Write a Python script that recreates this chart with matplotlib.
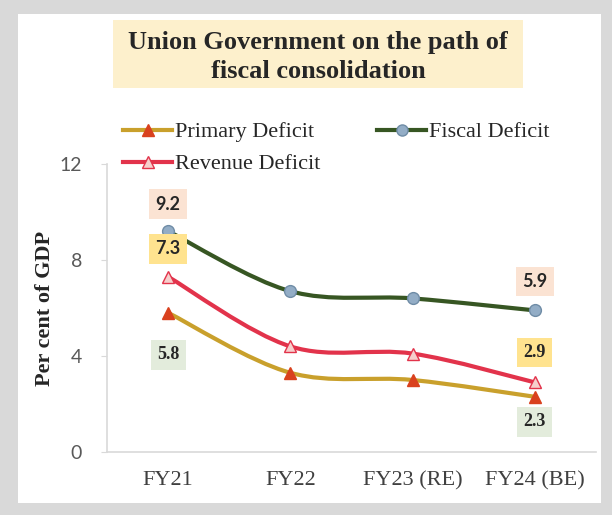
import numpy as np
import matplotlib
matplotlib.use("Agg")
import matplotlib.pyplot as plt
from matplotlib.path import Path
from matplotlib.patches import PathPatch, Rectangle
from matplotlib.lines import Line2D

# data (per cent of GDP)
years = ["FY21", "FY22", "FY23 (RE)", "FY24 (BE)"]
primary = [5.8, 3.3, 3.0, 2.3]
fiscal = [9.2, 6.7, 6.4, 5.9]
revenue = [7.3, 4.4, 4.1, 2.9]

SERIF = ["Liberation Serif", "DejaVu Serif"]
W, H = 612, 515

fig = plt.figure(figsize=(6.12, 5.15), dpi=100, facecolor="#d9d9d9")
fig.add_artist(Rectangle((18 / W, 12 / H), 583 / W, 489 / H,
                         transform=fig.transFigure, facecolor="white",
                         edgecolor="none", zorder=0))

ax = fig.add_axes([107 / W, 63 / H, 489 / W, 288 / H])
ax.set_facecolor("none")
ax.set_xlim(-0.5, 3.5)
ax.set_ylim(0, 12)


def smooth_path(xs, ys):
    # catmull-rom style bezier, like excel's smoothed line
    pts = np.column_stack([xs, ys]).astype(float)
    n = len(pts)
    verts = [pts[0]]
    codes = [Path.MOVETO]
    for i in range(n - 1):
        p0 = pts[max(i - 1, 0)]
        p1 = pts[i]
        p2 = pts[i + 1]
        p3 = pts[min(i + 2, n - 1)]
        verts += [p1 + (p2 - p0) / 6, p2 - (p3 - p1) / 6, p2]
        codes += [Path.CURVE4] * 3
    return Path(verts, codes)


x = np.arange(len(years))
series = [
    (primary, "#c9a02c", "^", "#d9411e", "#d9411e", "Primary Deficit", (123, 130)),
    (revenue, "#e2334b", "^", "#f6cfcc", "#e2334b", "Revenue Deficit", (123, 162)),
    (fiscal, "#375623", "o", "#93adc6", "#6f8ca6", "Fiscal Deficit", (377, 130)),
]
for vals, lc, mk, mfc, mec, name, (lx, ly) in series:
    ax.add_patch(PathPatch(smooth_path(x, vals), facecolor="none",
                           edgecolor=lc, lw=3.0, zorder=2))
    ax.plot(x, vals, ls="none", marker=mk, ms=8.5, mfc=mfc, mec=mec,
            mew=1.0, zorder=3)
    # legend entry
    fy = 1 - ly / H
    fig.add_artist(Line2D([lx / W, (lx + 49) / W], [fy, fy], color=lc,
                          lw=3.0, transform=fig.transFigure))
    fig.add_artist(Line2D([(lx + 24.5) / W], [fy], ls="none", marker=mk,
                          ms=8, mfc=mfc, mec=mec, mew=1.0,
                          transform=fig.transFigure))
    fig.text((lx + 52) / W, fy, name, ha="left", va="center_baseline",
             family=SERIF, fontsize=16, color="#262626")

# data labels
labels = [
    (0, fiscal[0], "9.2", 27, "#fbe3d3", ["Lato", "DejaVu Sans"]),
    (0, revenue[0], "7.3", 28, "#ffe38f", ["Lato", "DejaVu Sans"]),
    (0, primary[0], "5.8", -42, "#e3ecdc", SERIF),
    (3, fiscal[3], "5.9", 29, "#fbe3d3", ["Lato", "DejaVu Sans"]),
    (3, revenue[3], "2.9", 30, "#ffe38f", SERIF),
    (3, primary[3], "2.3", -25, "#e3ecdc", SERIF),
]
for xi, yi, txt, dy, bg, fam in labels:
    ax.annotate(txt, (xi, yi), xytext=(0, dy), textcoords="offset pixels",
                ha="center", va="center", fontsize=13, fontweight="bold",
                family=fam, color="#262626", zorder=4,
                bbox=dict(boxstyle="square,pad=0.35", fc=bg, ec="none"))

ax.set_xticks(x)
ax.set_xticklabels(years, family=SERIF, fontsize=16, color="#404040")
ax.set_yticks([0, 4, 8, 12])
ax.set_yticklabels(["0", "4", "8", "12"], fontsize=14, color="#595959",
                   family=["Lato", "DejaVu Sans"])
ax.tick_params(axis="x", length=0, pad=14)
ax.tick_params(axis="y", length=4, color="#d9d9d9", pad=14)
for s in ["top", "right"]:
    ax.spines[s].set_visible(False)
ax.spines["left"].set_color("#d9d9d9")
ax.spines["bottom"].set_color("#d9d9d9")
ax.spines["left"].set_linewidth(1.2)
ax.spines["bottom"].set_linewidth(1.2)

fig.text(45 / W, 1 - 308 / H, "Per cent of GDP", rotation=90,
         ha="center", va="center", family=SERIF, fontsize=16,
         fontweight="bold", color="#262626")

# title box
fig.add_artist(Rectangle((113 / W, 1 - 88 / H), 410 / W, 68 / H,
                         transform=fig.transFigure, facecolor="#fdf0cc",
                         edgecolor="none", zorder=1))
fig.text(318 / W, 1 - 57 / H,
         "Union Government on the path of\nfiscal consolidation",
         ha="center", va="center", family=SERIF, fontsize=19,
         fontweight="bold", color="#262626", linespacing=1.35, zorder=2)

fig.savefig("out.png", dpi=100, facecolor=fig.get_facecolor())
